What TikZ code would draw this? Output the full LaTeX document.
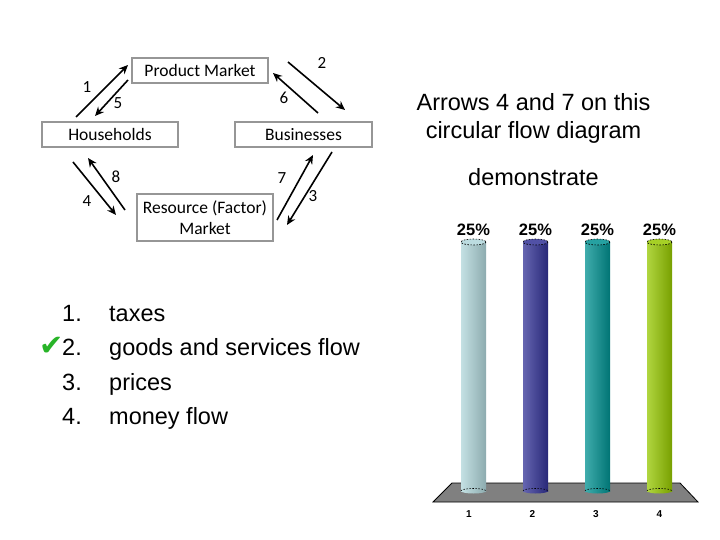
\documentclass[tikz,border=0pt]{standalone}
\usepackage{fontspec}
\setmainfont{Liberation Sans}
\newfontfamily\calfont{Carlito}
\newfontfamily\symfont{DejaVu Sans}
\usetikzlibrary{arrows.meta,calc}
\definecolor{BoxGray}{RGB}{150,150,150}
\definecolor{BarA}{RGB}{176,214,218}
\definecolor{BarB}{RGB}{50,50,150}
\definecolor{BarC}{RGB}{0,145,145}
\definecolor{BarD}{RGB}{150,200,0}
\definecolor{FloorGray}{RGB}{128,128,128}
\definecolor{TickGreen}{RGB}{40,180,40}

\begin{document}
\begin{tikzpicture}[
  x=1pt, y=-1pt,
  market/.style={rectangle, draw=BoxGray, line width=1.2pt, minimum width=136pt, minimum height=25pt,
                 inner sep=0pt, align=center, font=\calfont\fontsize{17.5}{21}\selectfont},
  flow/.style={-{Stealth[length=9pt,width=8pt]}, line width=1.6pt, black},
  num/.style={font=\calfont\fontsize{17}{18}\selectfont, inner sep=0pt},
  item/.style={anchor=base west, inner sep=0pt, font=\fontsize{23.5}{28}\selectfont},
  pct/.style={font=\bfseries\fontsize{16.5}{18}\selectfont, inner sep=0pt},
  axislbl/.style={font=\bfseries\fontsize{10}{11}\selectfont, inner sep=0pt}
]
\useasboundingbox (0,0) rectangle (720,540);
\fill[white] (0,0) rectangle (720,540);

\node[market] (PM) at (200,70.5) {Product Market};
\node[market] (HH) at (110,134.5) {Households};
\node[market, minimum width=137pt] (BU) at (303.5,134.5) {Businesses};
\node[market, minimum height=47pt] (RM) at (205,217.5) {Resource (Factor)\\Market};

\coordinate (f1a) at (76,117);  \coordinate (f1b) at (128,65);
\coordinate (f5a) at (128,80);  \coordinate (f5b) at (95,116);
\coordinate (f2a) at (288,62);  \coordinate (f2b) at (345,110);
\coordinate (f6a) at (318,113); \coordinate (f6b) at (273,73);
\coordinate (f8a) at (125,210); \coordinate (f8b) at (88,158);
\coordinate (f4a) at (73,162);  \coordinate (f4b) at (116,215);
\coordinate (f7a) at (277,220); \coordinate (f7b) at (313,155);
\coordinate (f3a) at (332,152); \coordinate (f3b) at (287,225);
\draw[flow] (f1a) -- (f1b);
\draw[flow] (f5a) -- (f5b);
\draw[flow] (f2a) -- (f2b);
\draw[flow] (f6a) -- (f6b);
\draw[flow] (f8a) -- (f8b);
\draw[flow] (f4a) -- (f4b);
\draw[flow] (f7a) -- (f7b);
\draw[flow] (f3a) -- (f3b);
\node[num] (n1) at (87,87) {1};
\node[num] (n5) at (118,103) {5};
\node[num] (n2) at (322,63) {2};
\node[num] (n6) at (284,98) {6};
\node[num] (n8) at (116,177) {8};
\node[num] (n4) at (87,201) {4};
\node[num] (n7) at (282,178) {7};
\node[num] (n3) at (313,196) {3};

\node[align=center, inner sep=0pt, font=\fontsize{23.5}{28}\selectfont] (q) at (533.5,118)
  {Arrows 4 and 7 on this\\circular flow diagram};
\node[inner sep=0pt, font=\fontsize{23.5}{28}\selectfont] (q2) at (533.5,177) {demonstrate};

\node[item] (i1) at (62,321) {1.};
\node[item] (i2) at (62,355.5) {2.};
\node[item] (i3) at (62,390) {3.};
\node[item] (i4) at (62,424.5) {4.};
\node[item] (t1) at (109,321) {taxes};
\node[item] (t2) at (109,355.5) {goods and services flow};
\node[item] (t3) at (109,390) {prices};
\node[item] (t4) at (109,424.5) {money flow};
\node[anchor=base east, inner sep=0pt, text=TickGreen, font=\symfont\fontsize{29}{30}\selectfont] (tick) at ($(i2.base west)+(2,0)$) {✔};

\filldraw[fill=FloorGray, draw=black, line width=0.8pt] (452,483) -- (680,483) -- (698,502) -- (433,502) -- cycle;
\foreach \x/\c/\n in {473.5/BarA/1, 535.5/BarB/2, 597.5/BarC/3, 659.5/BarD/4} {
  \shade[left color=\c!75!white, middle color=\c, right color=\c!80!black]
    (\x-12.5,242) rectangle (\x+12.5,491);
  \shade[left color=\c!75!white, middle color=\c, right color=\c!80!black]
    (\x,491) ellipse (12.5 and 2.5);
  \draw[black, dash pattern=on 1.5pt off 1.5pt, line width=0.6pt] (\x-12.5,491) arc (180:0:12.5 and -2.5);
  \fill[\c!85!white] (\x,242) ellipse (12.5 and 3);
  \draw[black, dash pattern=on 1.5pt off 1.5pt, line width=0.6pt] (\x,242) ellipse (12.5 and 3);
  \node[pct] (p\n) at (\x,230) {25\%};
  \node[axislbl] (l\n) at (\x-6+\n*1.5,514) {\n};
}
\end{tikzpicture}
\end{document}
